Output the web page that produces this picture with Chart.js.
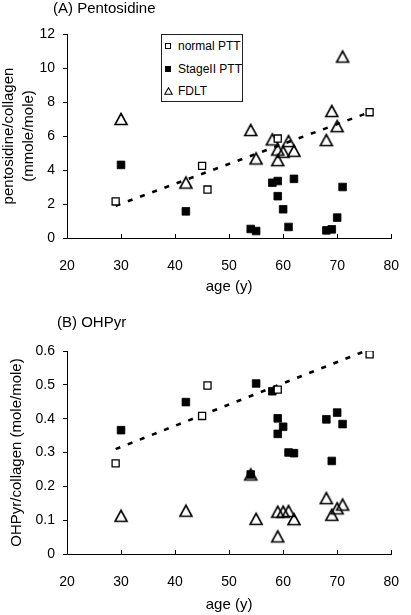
<!DOCTYPE html>
<html>
<head>
<meta charset="utf-8">
<script src="https://cdn.jsdelivr.net/npm/chart.js@4.4.1/dist/chart.umd.min.js"></script>
<style>
    body { margin: 0; background: #fff; }
    #wrap { position: relative; width: 411px; height: 615px; font-family: "Liberation Sans", Arial, sans-serif; color: #000; }
    canvas { position: absolute; left: 0; }
    #chartA { top: 0; }
    #chartB { top: 300px; }
    .panel { position: absolute; font-size: 15px; line-height: 18px; white-space: nowrap; }
    #legend { position: absolute; left: 161px; top: 34px; width: 80px; height: 66px; border: 1px solid #222; background: #fff; font-size: 12px; }
    #legend .row { position: absolute; left: 0; height: 14px; line-height: 14px; white-space: nowrap; }
    #legend .mk { position: absolute; box-sizing: border-box; }
    #legend .txt { position: absolute; left: 16px; top: 0; }
</style>
</head>
<body>
<div id="wrap">
    <canvas id="chartA" width="411" height="300"></canvas>
    <canvas id="chartB" width="411" height="315"></canvas>
    <div class="panel" style="left:53px; top:-1px;">(A) Pentosidine</div>
    <div class="panel" style="left:57px; top:313px;">(B) OHPyr</div>
    <div id="legend">
        <div class="row" style="top:4px;"><span class="mk" style="left:3px; top:4px; width:6px; height:6px; border:1px solid #000; background:#fff;"></span><span class="txt">normal PTT</span></div>
        <div class="row" style="top:27px;"><span class="mk" style="left:3px; top:4px; width:6px; height:6px; background:#000;"></span><span class="txt">StageII PTT</span></div>
        <div class="row" style="top:49px;"><svg class="mk" style="left:2px; top:3px;" width="9" height="8"><polygon points="4.5,0.8 8.3,7.3 0.7,7.3" fill="none" stroke="#000" stroke-width="1.1"/></svg><span class="txt">FDLT</span></div>
    </div>
</div>
<script>
// Datos: normal PTT
const normalAge = [29, 45, 46, 59, 76];
const normalPento = [2.15, 4.24, 2.85, 5.85, 7.4];
const normalOHPyr = [0.268, 0.408, 0.498, 0.486, 0.59];

// Datos: StageII PTT
const stageAge = [30, 42, 54, 55, 58, 59, 59, 60, 61, 62, 68, 69, 70, 71];
const stagePento = [4.3, 1.57, 0.53, 0.41, 3.25, 3.35, 2.46, 1.69, 0.65, 3.48, 0.45, 0.51, 1.2, 3.0];
const stageOHPyr = [0.366, 0.449, 0.235, 0.504, 0.481, 0.401, 0.355, 0.376, 0.30, 0.298, 0.398, 0.275, 0.418, 0.384];

// Datos: FDLT
const fdltAgeA = [30, 42, 54, 55, 58, 59, 59, 60, 61, 62, 68, 69, 70, 71];
const fdltPento = [7.0, 3.26, 6.35, 4.68, 5.8, 5.2, 4.58, 5.07, 5.7, 5.13, 5.76, 7.47, 6.58, 10.67];
const fdltAgeB = [30, 42, 54, 55, 59, 59, 60, 61, 62, 68, 69, 70, 71];
const fdltOHPyr = [0.113, 0.128, 0.235, 0.104, 0.125, 0.052, 0.125, 0.127, 0.103, 0.165, 0.116, 0.135, 0.146];

// Línea de tendencia (normal PTT)
const trendAge = [29, 76];
const trendPento = [1.9, 7.4];
const trendOHPyr = [0.31, 0.605];

// Ejes
const xTicks = [20, 30, 40, 50, 60, 70, 80];
const pentoTicks = [0, 2, 4, 6, 8, 10, 12];
const ohpyrTicks = [0, 0.1, 0.2, 0.3, 0.4, 0.5, 0.6];

Chart.defaults.font.family = '"Liberation Sans", Arial, sans-serif';
Chart.defaults.color = '#000';

function pts(xs, ys) {
    return xs.map((x, i) => ({ x: x, y: ys[i] }));
}

// Marcador triángulo centrado en su caja
function trianglePoint() {
    const c = document.createElement('canvas');
    c.width = 16; c.height = 16;
    const g = c.getContext('2d');
    g.strokeStyle = '#000';
    g.lineWidth = 1.6;
    g.beginPath();
    g.moveTo(8, 2.5);
    g.lineTo(14, 13.5);
    g.lineTo(2, 13.5);
    g.closePath();
    g.stroke();
    return c;
}
const triImg = trianglePoint();

// Marcas del eje x hacia dentro
const innerTicks = {
    id: 'innerTicks',
    afterDraw(chart) {
        const sx = chart.scales.x;
        const ctx = chart.ctx;
        const b = chart.chartArea.bottom;
        ctx.save();
        ctx.strokeStyle = '#000';
        ctx.lineWidth = 1;
        sx.ticks.forEach(t => {
            const px = Math.round(sx.getPixelForValue(t.value)) + 0.5;
            ctx.beginPath();
            ctx.moveTo(px, b);
            ctx.lineTo(px, b - 4);
            ctx.stroke();
        });
        ctx.restore();
    }
};

function datasets(nAge, nVal, sAge, sVal, fAge, fVal, tVal) {
    return [
        {
            label: 'normal PTT',
            data: pts(nAge, nVal),
            pointStyle: 'rect',
            pointRadius: 5,
            backgroundColor: '#fff',
            borderColor: '#000',
            borderWidth: 1.3
        },
        {
            label: 'StageII PTT',
            data: pts(sAge, sVal),
            pointStyle: 'rect',
            pointRadius: 5.4,
            backgroundColor: '#000',
            borderColor: '#000',
            borderWidth: 0.8
        },
        {
            label: 'FDLT',
            data: pts(fAge, fVal),
            pointStyle: triImg,
            pointRadius: 7
        },
        {
            label: 'trend',
            data: pts(trendAge, tVal),
            showLine: true,
            pointRadius: 0,
            borderColor: '#000',
            borderWidth: 2.6,
            borderDash: [5, 8],
            fill: false
        }
    ];
}

function options(yMin, yMax, yStep, yTitle, yTitlePad, topPad, xHeight, xTitlePad) {
    return {
        responsive: false,
        animation: false,
        events: [],
        layout: { padding: { top: topPad, right: 9, left: 0, bottom: 0 } },
        plugins: {
            legend: { display: false },
            tooltip: { enabled: false }
        },
        scales: {
            x: {
                type: 'linear',
                min: 20,
                max: 80,
                afterBuildTicks: s => { s.ticks = xTicks.map(v => ({ value: v })); },
                ticks: { font: { size: 14 }, padding: 12 },
                grid: { display: false },
                border: { color: '#000', width: 1 },
                title: { display: true, text: 'age (y)', font: { size: 15 }, padding: { top: 0, bottom: xTitlePad } },
                afterFit: s => { s.height = xHeight; }
            },
            y: {
                type: 'linear',
                min: yMin,
                max: yMax,
                ticks: { stepSize: yStep, font: { size: 14 }, padding: 8 },
                grid: { display: true, drawOnChartArea: false, drawTicks: true, tickLength: 4, color: '#000' },
                border: { color: '#000', width: 1 },
                title: { display: true, text: yTitle, font: { size: 15, lineHeight: 1.3333 }, padding: { top: yTitlePad, bottom: 0 } },
                afterFit: s => { s.width = 67; }
            }
        }
    };
}

// Gráfico (A) Pentosidine
const chartA = new Chart(document.getElementById('chartA'), {
    type: 'scatter',
    data: { datasets: datasets(normalAge, normalPento, stageAge, stagePento, fdltAgeA, fdltPento, trendPento) },
    options: options(pentoTicks[0], pentoTicks[pentoTicks.length - 1], 2,
        ['pentosidine/collagen', '(mmole/mole)'], -1.5, 34, 62, 4),
    plugins: [innerTicks]
});

// Gráfico (B) OHPyr
const chartB = new Chart(document.getElementById('chartB'), {
    type: 'scatter',
    data: { datasets: datasets(normalAge, normalOHPyr, stageAge, stageOHPyr, fdltAgeB, fdltOHPyr, trendOHPyr) },
    options: options(ohpyrTicks[0], ohpyrTicks[ohpyrTicks.length - 1], 0.1,
        'OHPyr/collagen (mole/mole)', 6.5, 51, 61, 1),
    plugins: [innerTicks]
});
</script>
</body>
</html>
